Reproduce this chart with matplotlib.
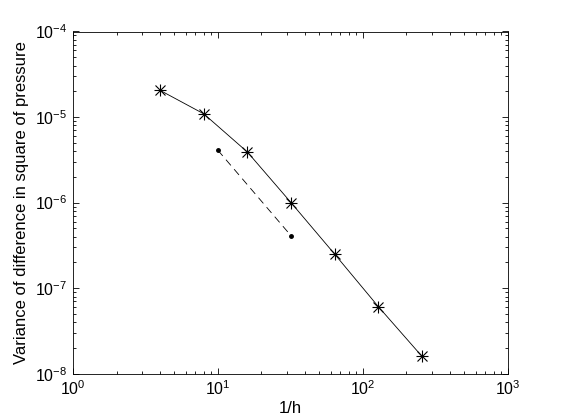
import numpy as np
import matplotlib
matplotlib.use("Agg")
import matplotlib.pyplot as plt
from matplotlib.ticker import LogLocator, NullFormatter

plt.rcParams['font.family'] = ['Liberation Sans', 'DejaVu Sans']
plt.rcParams['mathtext.fontset'] = 'custom'
plt.rcParams['mathtext.rm'] = 'Liberation Sans'
plt.rcParams['mathtext.it'] = 'Liberation Sans'

# ── Data ─────────────────────────────────────────────────────────────────────
inv_h    = [4, 8, 16, 32, 64, 128, 256]
variance = [2.05e-5, 1.09e-5, 3.9e-6, 1.0e-6, 2.5e-7, 6.1e-8, 1.6e-8]

ref_x = [10, 32]
ref_y = [4.1e-6, 4.1e-7]

# ── Plot ─────────────────────────────────────────────────────────────────────
fig = plt.figure(figsize=(5.61, 4.2), dpi=100)
ax = fig.add_axes([0.13, 0.11, 0.775, 0.815])

ax.plot(inv_h, variance, color="black", linewidth=0.6, marker="+", markersize=9,
        markeredgewidth=0.8)
ax.plot(inv_h, variance, linestyle="none", color="black", marker="x", markersize=6.5,
        markeredgewidth=0.8)
ax.plot(ref_x, ref_y, color="black", linewidth=0.6, linestyle=(0, (9, 6)),
        marker="o", markersize=2.5)

ax.set_xscale("log")
ax.set_yscale("log")
ax.set_xlim(1, 1000)
ax.set_ylim(1e-8, 1e-4)

ax.xaxis.set_major_locator(LogLocator(base=10, numticks=10))
ax.yaxis.set_major_locator(LogLocator(base=10, numticks=10))
ax.xaxis.set_minor_locator(LogLocator(base=10, subs=np.arange(2, 10), numticks=20))
ax.yaxis.set_minor_locator(LogLocator(base=10, subs=np.arange(2, 10), numticks=20))
ax.xaxis.set_minor_formatter(NullFormatter())
ax.yaxis.set_minor_formatter(NullFormatter())

ax.tick_params(which="both", direction="in", top=True, right=True, labelsize=11.5,
               width=0.6)
ax.tick_params(which="major", length=4.5, pad=4)
ax.tick_params(which="minor", length=2.5)
for s in ax.spines.values():
    s.set_linewidth(0.6)

ax.set_xlabel("1/h", fontsize=12, labelpad=2)
ax.set_ylabel("Variance of difference in square of pressure", fontsize=12, labelpad=4)

fig.savefig("out.png", dpi=100)
